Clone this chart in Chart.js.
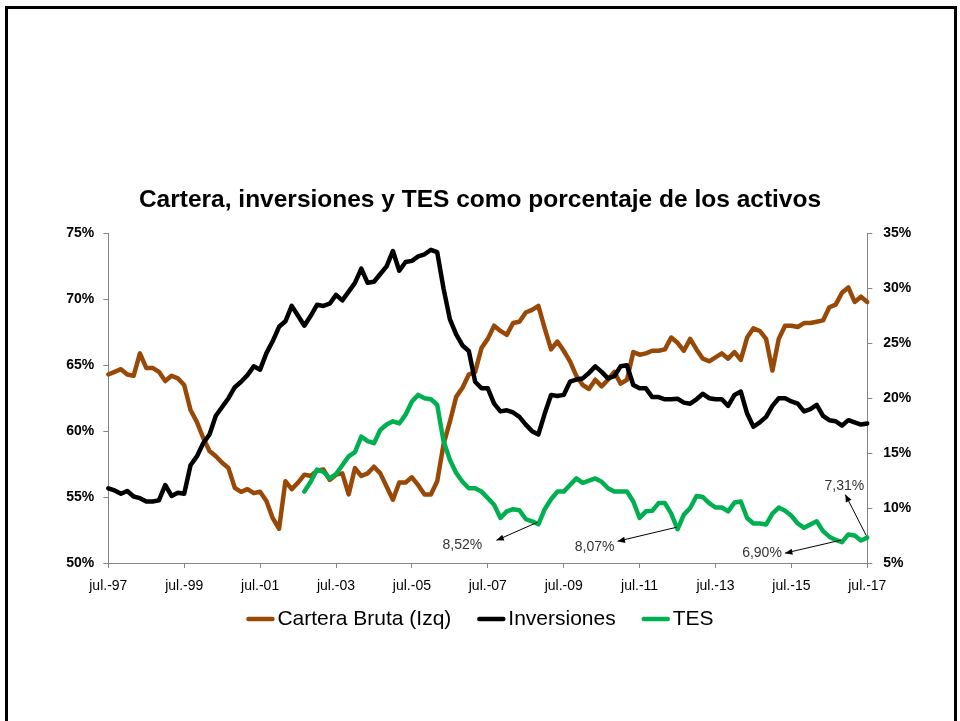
<!DOCTYPE html>
<html lang="es">
<head>
<meta charset="UTF-8">
<title>Cartera, inversiones y TES</title>
<script src="https://cdn.jsdelivr.net/npm/chart.js"></script>
<style>
  html, body { margin: 0; background: #fff; overflow: hidden; }
  #marco { position: absolute; left: 5px; top: 6px; width: 946px; height: 730px; border: 3px solid #000; }
  #wrap { position: absolute; left: 0; top: 0; width: 960px; height: 721px; }
</style>
</head>
<body>
<div id="marco"></div>
<div id="wrap"><canvas id="grafico" width="960" height="721"></canvas></div>
<script>
// series bimestrales jul.-97 a jul.-17 (% de los activos)
var cartera = [
  64.3, 64.5, 64.7, 64.3, 64.2, 65.9, 64.8, 64.8, 64.5, 63.8,
  64.2, 64.0, 63.5, 61.6, 60.7, 59.5, 58.5, 58.1, 57.6, 57.2,
  55.7, 55.4, 55.6, 55.3, 55.4, 54.7, 53.4, 52.6, 56.2, 55.6,
  56.1, 56.7, 56.6, 57.0, 57.1, 56.3, 56.7, 56.8, 55.2, 57.2,
  56.6, 56.8, 57.3, 56.8, 55.8, 54.8, 56.1, 56.1, 56.5, 55.9,
  55.2, 55.2, 56.2, 59.0, 60.7, 62.6, 63.3, 64.3, 64.5, 66.3,
  67.0, 68.0, 67.6, 67.3, 68.2, 68.3, 69.0, 69.2, 69.5, 67.8,
  66.2, 66.8, 66.1, 65.3, 64.2, 63.5, 63.2, 63.9, 63.4, 63.9,
  64.5, 63.6, 63.9, 66.0, 65.8, 65.9, 66.1, 66.1, 66.2, 67.1,
  66.7, 66.1, 67.0, 66.2, 65.5, 65.3, 65.6, 65.9, 65.5, 66.0,
  65.4, 67.1, 67.8, 67.6, 67.0, 64.6, 67.0, 68.0, 68.0, 67.9,
  68.2, 68.2, 68.3, 68.4, 69.4, 69.6, 70.5, 70.9, 69.8, 70.2,
  69.8
];
var inversiones = [
  11.8, 11.6, 11.3, 11.55, 11.05, 10.9, 10.6, 10.6, 10.7, 12.1,
  11.1, 11.4, 11.3, 13.9, 14.7, 15.9, 16.7, 18.4, 19.2, 20.0,
  21.0, 21.5, 22.1, 22.9, 22.6, 24.1, 25.2, 26.5, 27.0, 28.4,
  27.5, 26.6, 27.5, 28.5, 28.4, 28.6, 29.4, 28.9, 29.7, 30.5,
  31.8, 30.5, 30.6, 31.3, 32.0, 33.4, 31.6, 32.4, 32.5, 32.9,
  33.1, 33.5, 33.3, 30.0, 27.2, 25.8, 24.8, 24.3, 21.5, 20.9,
  20.9, 19.5, 18.8, 18.9, 18.7, 18.3, 17.6, 17.0, 16.7, 18.6,
  20.3, 20.2, 20.3, 21.5, 21.7, 21.8, 22.3, 22.9, 22.4, 21.8,
  22.0, 22.9, 23.0, 21.2, 20.9, 20.9, 20.1, 20.1, 19.9, 19.9,
  19.95, 19.6, 19.5, 19.9, 20.4, 20.0, 19.9, 19.9, 19.3, 20.3,
  20.6, 18.6, 17.4, 17.8, 18.3, 19.3, 20.0, 20.0, 19.7, 19.5,
  18.8, 19.0, 19.4, 18.4, 18.0, 17.9, 17.5, 18.0, 17.8, 17.6,
  17.7
];
var tes = [
  null, null, null, null, null, null, null, null, null, null,
  null, null, null, null, null, null, null, null, null, null,
  null, null, null, null, null, null, null, null, null, null,
  null, 11.5, 12.4, 13.5, 13.3, 12.7, 13.1, 13.9, 14.7, 15.1,
  16.5, 16.1, 15.9, 17.1, 17.6, 17.9, 17.7, 18.5, 19.7, 20.3,
  20.0, 19.9, 19.4, 16.1, 14.4, 13.2, 12.4, 11.8, 11.8, 11.5,
  10.9, 10.3, 9.1, 9.7, 9.9, 9.8, 9.0, 8.8, 8.52, 9.9,
  10.8, 11.5, 11.5, 12.1, 12.7, 12.3, 12.5, 12.7, 12.4, 11.8,
  11.5, 11.5, 11.5, 10.6, 9.1, 9.7, 9.75, 10.45, 10.45, 9.5,
  8.07, 9.4, 10.0, 11.1, 11.0, 10.45, 10.05, 10.05, 9.7, 10.5,
  10.6, 9.1, 8.6, 8.6, 8.5, 9.5, 10.05, 9.75, 9.3, 8.6,
  8.2, 8.5, 8.8, 7.9, 7.4, 7.1, 6.90, 7.6, 7.5, 7.05,
  7.31
];

// etiquetas del eje x: cada dos meses desde jul.-97
var meses = ['jul.', 'sep.', 'nov.', 'ene.', 'mar.', 'may.'];
var fechas = [];
for (var i = 0; i < cartera.length; i++) {
  var anio = 97 + Math.floor((i + 3) / 6);
  fechas.push(meses[i % 6] + '-' + ('0' + (anio % 100)).slice(-2));
}

// valores señalados con flecha sobre la serie TES
var notas = [
  { idx: 68, texto: '8,52%', tx: -76, ty: 21, fx: -42, fy: 16 },
  { idx: 90, texto: '8,07%', tx: -83, ty: 18, fx: -60, fy: 12 },
  { idx: 116, texto: '6,90%', tx: -80, ty: 11, fx: -57, fy: 11 },
  { idx: 120, texto: '7,31%', tx: -23, ty: -51, fx: -22, fy: -43 }
];

var fuente = '"Liberation Sans", Arial, sans-serif';

var flechas = {
  id: 'flechas',
  afterDatasetsDraw: function (chart) {
    var ctx = chart.ctx;
    var xs = chart.scales.x, ys = chart.scales.y1;
    ctx.save();
    notas.forEach(function (n) {
      var px = xs.getPixelForValue(n.idx);
      var py = ys.getPixelForValue(tes[n.idx]);
      var hx = px + n.fx, hy = py + n.fy;
      ctx.strokeStyle = '#000';
      ctx.fillStyle = '#000';
      ctx.lineWidth = 1;
      ctx.beginPath();
      ctx.moveTo(px - 1, py - 2);
      ctx.lineTo(hx, hy);
      ctx.stroke();
      var ang = Math.atan2(hy - py, hx - px);
      ctx.beginPath();
      ctx.moveTo(hx, hy);
      ctx.lineTo(hx - 8 * Math.cos(ang - 0.4), hy - 8 * Math.sin(ang - 0.4));
      ctx.lineTo(hx - 8 * Math.cos(ang + 0.4), hy - 8 * Math.sin(ang + 0.4));
      ctx.closePath();
      ctx.fill();
      ctx.font = '14px ' + fuente;
      ctx.fillStyle = '#333';
      ctx.textAlign = 'center';
      ctx.textBaseline = 'middle';
      ctx.fillText(n.texto, px + n.tx, py + n.ty);
    });
    ctx.restore();
  }
};

// leyenda inferior: trazo corto + nombre de la serie, centrada
var leyenda = {
  id: 'leyenda',
  afterDraw: function (chart) {
    var ctx = chart.ctx;
    var trazo = 28, hueco = 3, sep = 26, y = 619;
    ctx.save();
    ctx.font = '21px ' + fuente;
    var items = chart.data.datasets.map(function (d) {
      return { texto: d.label, color: d.borderColor, ancho: trazo + hueco + ctx.measureText(d.label).width };
    });
    var total = items.reduce(function (s, it) { return s + it.ancho; }, 0) + sep * (items.length - 1);
    var x = (chart.width - total) / 2;
    items.forEach(function (it) {
      ctx.strokeStyle = it.color;
      ctx.lineWidth = 4.5;
      ctx.lineCap = 'round';
      ctx.beginPath();
      ctx.moveTo(x + 2, y);
      ctx.lineTo(x + trazo - 2, y);
      ctx.stroke();
      ctx.fillStyle = '#000';
      ctx.textAlign = 'left';
      ctx.textBaseline = 'middle';
      ctx.fillText(it.texto, x + trazo + hueco, y);
      x += it.ancho + sep;
    });
    ctx.restore();
  }
};

var linea = { pointRadius: 0, borderWidth: 4.5, borderJoinStyle: 'round', borderCapStyle: 'round', tension: 0, fill: false };

var ctx = document.getElementById('grafico').getContext('2d');
var grafico = new Chart(ctx, {
  type: 'line',
  data: {
    labels: fechas,
    datasets: [
      Object.assign({ label: 'Cartera Bruta (Izq)', data: cartera, borderColor: '#984807', backgroundColor: '#984807', yAxisID: 'y', order: 3 }, linea),
      Object.assign({ label: 'Inversiones', data: inversiones, borderColor: '#000000', backgroundColor: '#000000', yAxisID: 'y1', order: 2 }, linea),
      Object.assign({ label: 'TES', data: tes, borderColor: '#00B050', backgroundColor: '#00B050', yAxisID: 'y1', order: 1 }, linea)
    ]
  },
  options: {
    responsive: false,
    animation: false,
    layout: { padding: { top: 186, left: 0, right: 0, bottom: 120 } },
    plugins: {
      title: {
        display: true,
        text: 'Cartera, inversiones y TES como porcentaje de los activos',
        color: '#000',
        font: { family: fuente, size: 24.5, weight: 'bold' },
        padding: { top: 0, bottom: 18 }
      },
      legend: { display: false },
      tooltip: { enabled: false }
    },
    scales: {
      x: {
        type: 'category',
        grid: { drawOnChartArea: false, tickLength: 5, color: '#868686' },
        border: { color: '#868686' },
        ticks: {
          autoSkip: false, maxRotation: 0, padding: 10, color: '#000',
          font: { family: fuente, size: 14 },
          callback: function (v, i) { return i % 12 === 0 ? fechas[i] : null; }
        },
        afterFit: function (s) { s.height = 38; }
      },
      y: {
        position: 'left', min: 50, max: 75,
        grid: { drawOnChartArea: false, tickLength: 5, color: '#868686' },
        border: { color: '#868686' },
        ticks: {
          stepSize: 5, padding: 9, color: '#000',
          font: { family: fuente, size: 14, weight: 'bold' },
          callback: function (v) { return v + '%'; }
        },
        afterFit: function (s) { s.width = 108.3; }
      },
      y1: {
        position: 'right', min: 5, max: 35,
        grid: { drawOnChartArea: false, tickLength: 5, color: '#868686' },
        border: { color: '#868686' },
        ticks: {
          stepSize: 5, padding: 11, color: '#000',
          font: { family: fuente, size: 14, weight: 'bold' },
          callback: function (v) { return v + '%'; }
        },
        afterFit: function (s) { s.width = 92.7; }
      }
    }
  },
  plugins: [flechas, leyenda]
});
</script>
</body>
</html>
